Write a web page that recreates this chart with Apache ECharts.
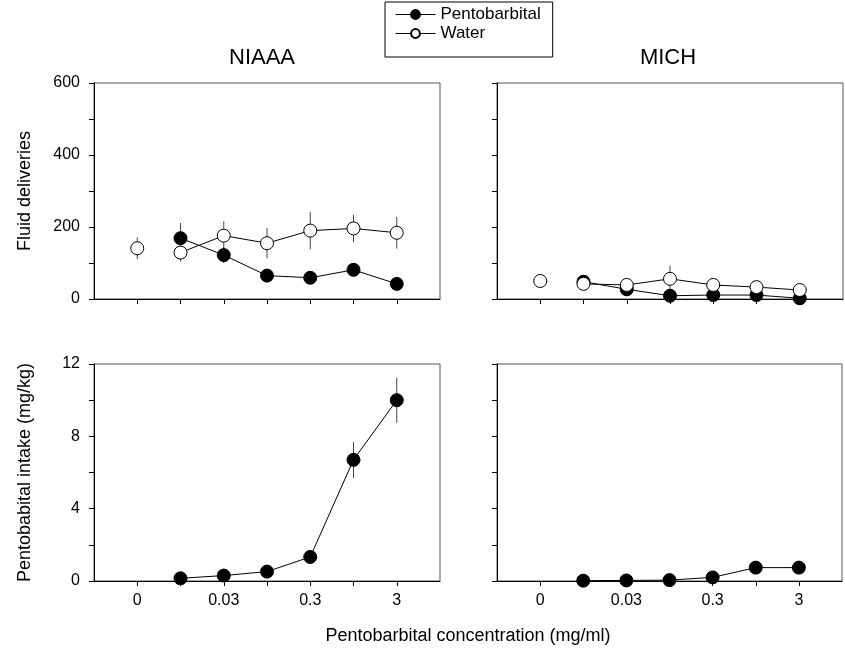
<!DOCTYPE html>
<html>
<head>
<meta charset="utf-8">
<script src="https://cdn.jsdelivr.net/npm/echarts@6/dist/echarts.min.js"></script>
<style>
  html, body { margin: 0; padding: 0; background: #fff; }
  #chart { width: 845px; height: 652px; }
</style>
</head>
<body>
<div id="chart"></div>
<script>
// concentrations (mg/ml), one category each; padded with an empty slot on both sides
const concentrations = ['0', '0.01', '0.03', '0.1', '0.3', '1', '3'];
const shownLabels = ['0', '0.03', '0.3', '3'];
const categories = [''].concat(concentrations, ['']);

// fluid deliveries
const niaaaWater = [141, 129, 176, 155, 190, 196, 184];
const niaaaWaterErr = [30, 25, 40, 42, 52, 38, 44];
const niaaaPento = [null, 169, 122, 65, 59, 81, 42];
const niaaaPentoErr = [null, 42, 22, 8, 8, 15, 8];
const michWater = [50, 42, 39, 56, 39, 33, 25];
const michWaterErr = [8, 8, 8, 37, 8, 8, 8];
const michPento = [null, 48, 27, 9, 11, 11, 2];
const michPentoErr = [null, 6, 6, 6, 6, 6, 4];

// pentobarbital intake (mg/kg)
const niaaaIntake = [null, 0.15, 0.3, 0.52, 1.33, 6.7, 10.0];
const niaaaIntakeErr = [null, 0.05, 0.1, 0.1, 0.2, 1.0, 1.25];
const michIntake = [null, 0.02, 0.03, 0.05, 0.2, 0.74, 0.74];

const font = 'Liberation Sans, Arial, sans-serif';

function pairs(values, from, to) {
    let out = [];
    for (let i = from; i <= to; i++) {
        if (values[i] != null) out.push([i + 1, values[i]]);
    }
    return out;
}

function errPairs(values, errs) {
    let out = [];
    for (let i = 0; i < values.length; i++) {
        if (values[i] != null && errs[i] != null) out.push([i + 1, values[i], errs[i]]);
    }
    return out;
}

function errorBars(gridIndex, values, errs) {
    return {
        type: 'custom',
        xAxisIndex: gridIndex,
        yAxisIndex: gridIndex,
        z: 1,
        silent: true,
        data: errPairs(values, errs),
        renderItem: function (params, api) {
            let x = api.value(0), y = api.value(1), e = api.value(2);
            let p1 = api.coord([x, y - e]);
            let p2 = api.coord([x, y + e]);
            return {
                type: 'line',
                shape: { x1: p1[0], y1: p1[1], x2: p2[0], y2: p2[1] },
                style: { stroke: '#444', lineWidth: 1 }
            };
        }
    };
}

const pentoStyle = {
    symbol: 'circle',
    symbolSize: 13,
    lineStyle: { color: '#000', width: 1 },
    itemStyle: { color: '#000', borderColor: '#000', borderWidth: 1 }
};
const waterStyle = {
    symbol: 'circle',
    symbolSize: 13,
    lineStyle: { color: '#000', width: 1 },
    itemStyle: { color: '#fff', borderColor: '#000', borderWidth: 1 }
};

function lineSeries(name, gridIndex, data, style) {
    return Object.assign({
        name: name,
        type: 'line',
        xAxisIndex: gridIndex,
        yAxisIndex: gridIndex,
        z: 3,
        animation: false,
        data: data
    }, style);
}

function makeX(gridIndex, showLabels) {
    return {
        type: 'category',
        gridIndex: gridIndex,
        data: categories,
        boundaryGap: false,
        axisLine: { lineStyle: { color: '#000', width: 1 } },
        axisTick: {
            length: 5,
            lineStyle: { color: '#000' },
            interval: function (i) { return i > 0 && i < categories.length - 1; }
        },
        axisLabel: {
            show: showLabels,
            interval: 0,
            margin: 12,
            color: '#000',
            fontFamily: font,
            fontSize: 16,
            formatter: function (v) { return shownLabels.indexOf(v) >= 0 ? v : ''; }
        },
        splitLine: { show: false }
    };
}

function makeY(gridIndex, max, step, labelStep, showLabels, name) {
    return {
        type: 'value',
        gridIndex: gridIndex,
        min: 0,
        max: max,
        interval: step,
        name: name,
        nameLocation: 'middle',
        nameRotate: 90,
        nameGap: 60,
        nameTextStyle: { color: '#000', fontFamily: font, fontSize: 18 },
        axisLine: { show: true, lineStyle: { color: '#000', width: 1 } },
        axisTick: { show: true, length: 5, lineStyle: { color: '#000' } },
        axisLabel: {
            show: showLabels,
            margin: 14,
            color: '#000',
            fontFamily: font,
            fontSize: 16,
            formatter: function (v) { return v % labelStep === 0 ? String(v) : ''; }
        },
        splitLine: { show: false }
    };
}

const chart = echarts.init(document.getElementById('chart'));

chart.setOption({
    backgroundColor: '#fff',
    animation: false,
    textStyle: { fontFamily: font },
    legend: {
        data: ['Pentobarbital', 'Water'],
        orient: 'vertical',
        left: 385,
        top: 2,
        itemWidth: 40,
        itemHeight: 11,
        itemGap: 2,
        padding: [4, 12, 15, 10],
        borderColor: '#000',
        borderWidth: 1,
        lineStyle: { width: 1 },
        textStyle: { color: '#000', fontFamily: font, fontSize: 17 }
    },
    grid: [
        { left: 94, top: 83, width: 346, height: 216, show: true, borderColor: '#555', borderWidth: 1 },
        { left: 497, top: 83, width: 346, height: 216, show: true, borderColor: '#555', borderWidth: 1 },
        { left: 94, top: 364, width: 346, height: 217, show: true, borderColor: '#555', borderWidth: 1 },
        { left: 497, top: 364, width: 346, height: 217, show: true, borderColor: '#555', borderWidth: 1 }
    ],
    xAxis: [makeX(0, false), makeX(1, false), makeX(2, true), makeX(3, true)],
    yAxis: [
        makeY(0, 600, 100, 200, true, 'Fluid deliveries'),
        makeY(1, 600, 100, 200, false, ''),
        makeY(2, 12, 2, 4, true, 'Pentobabital intake (mg/kg)'),
        makeY(3, 12, 2, 4, false, '')
    ],
    graphic: [
        { type: 'text', x: 262, y: 47, style: { text: 'NIAAA', fill: '#000', font: '22px ' + font, textAlign: 'center' } },
        { type: 'text', x: 668, y: 47, style: { text: 'MICH', fill: '#000', font: '22px ' + font, textAlign: 'center' } },
        { type: 'text', x: 468, y: 627, style: { text: 'Pentobarbital concentration (mg/ml)', fill: '#000', font: '18px ' + font, textAlign: 'center' } }
    ],
    series: [
        errorBars(0, niaaaWater, niaaaWaterErr),
        errorBars(0, niaaaPento, niaaaPentoErr),
        lineSeries('Water', 0, pairs(niaaaWater, 1, 6), waterStyle),
        lineSeries('Water', 0, pairs(niaaaWater, 0, 0), waterStyle),
        lineSeries('Pentobarbital', 0, pairs(niaaaPento, 1, 6), pentoStyle),

        errorBars(1, michWater, michWaterErr),
        errorBars(1, michPento, michPentoErr),
        lineSeries('Pentobarbital', 1, pairs(michPento, 1, 6), pentoStyle),
        lineSeries('Water', 1, pairs(michWater, 1, 6), waterStyle),
        lineSeries('Water', 1, pairs(michWater, 0, 0), waterStyle),

        errorBars(2, niaaaIntake, niaaaIntakeErr),
        lineSeries('Pentobarbital', 2, pairs(niaaaIntake, 1, 6), pentoStyle),

        lineSeries('Pentobarbital', 3, pairs(michIntake, 1, 6), pentoStyle)
    ]
});

window.addEventListener('resize', function () {
    chart.resize();
});
</script>
</body>
</html>
